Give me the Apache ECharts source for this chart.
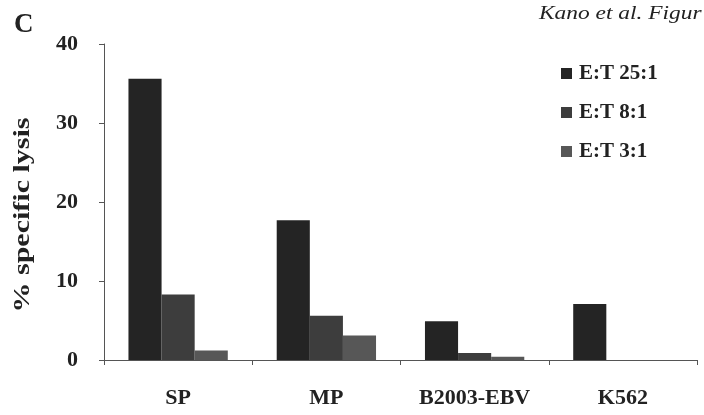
<!DOCTYPE html>
<html>
<head>
<meta charset="utf-8">
<script src="https://cdn.jsdelivr.net/npm/echarts@6/dist/echarts.min.js"></script>
<style>
html,body{margin:0;padding:0;background:#fff;}
#chart{width:704px;height:415px;}
</style>
</head>
<body>
<div id="chart"></div>
<script>
const categories = ['SP', 'MP', 'B2003-EBV', 'K562'];
const seriesNames = ['E:T 25:1', 'E:T 8:1', 'E:T 3:1'];
const et25 = [35.6, 17.7, 4.9, 7.1];
const et8 = [8.3, 5.6, 0.9, 0];
const et3 = [1.2, 3.1, 0.4, 0];
const yTicks = [0, 10, 20, 30, 40];
const colors = ['#242424', '#3d3d3d', '#575757'];

const serif = '"Liberation Serif", "DejaVu Serif", serif';
const chart = echarts.init(document.getElementById('chart'));
const values = [et25, et8, et3];
chart.setOption({
  backgroundColor: '#ffffff',
  animation: false,
  grid: { left: 104, right: 7, top: 44, bottom: 55, containLabel: false },
  legend: {
    orient: 'vertical',
    left: 556,
    top: 58,
    itemWidth: 11,
    itemHeight: 11,
    itemGap: 18,
    icon: 'rect',
    data: seriesNames,
    textStyle: { fontFamily: serif, fontWeight: 'bold', fontSize: 21, color: '#222', padding: [0, 0, 0, 2] }
  },
  xAxis: {
    type: 'category',
    data: categories,
    boundaryGap: true,
    axisLine: { lineStyle: { color: '#555', width: 1 } },
    axisTick: { show: true, inside: false, length: 5, lineStyle: { color: '#555' } },
    axisLabel: { fontFamily: serif, fontWeight: 'bold', fontSize: 22, color: '#222', margin: 27 },
    splitLine: { show: false }
  },
  yAxis: {
    type: 'value',
    min: yTicks[0],
    max: yTicks[yTicks.length - 1],
    interval: 10,
    axisLine: { show: true, lineStyle: { color: '#555', width: 1 } },
    axisTick: { show: true, inside: false, length: 5, lineStyle: { color: '#555' } },
    axisLabel: { fontFamily: serif, fontWeight: 'bold', fontSize: 22, color: '#222', margin: 26 },
    splitLine: { show: false }
  },
  series: seriesNames.map((n, i) => ({
    name: n,
    type: 'bar',
    data: values[i],
    barGap: '0%',
    barCategoryGap: '33%',
    itemStyle: { color: colors[i] }
  })),
  graphic: [
    { type: 'text', left: 14, top: 12, style: { text: 'C', font: 'bold 27px ' + serif, fill: '#222' } },
    { type: 'text', x: 539, y: 14, scaleX: 1.3,
      style: { text: 'Kano et al. Figur', font: 'italic 18px ' + serif, fill: '#222', textVerticalAlign: 'middle' } },
    { type: 'text', x: 23, y: 215, rotation: Math.PI / 2, scaleX: 1.25,
      style: { text: '% specific lysis', font: 'bold 24px ' + serif, fill: '#222', textAlign: 'center', textVerticalAlign: 'middle' } }
  ]
});
</script>
</body>
</html>
